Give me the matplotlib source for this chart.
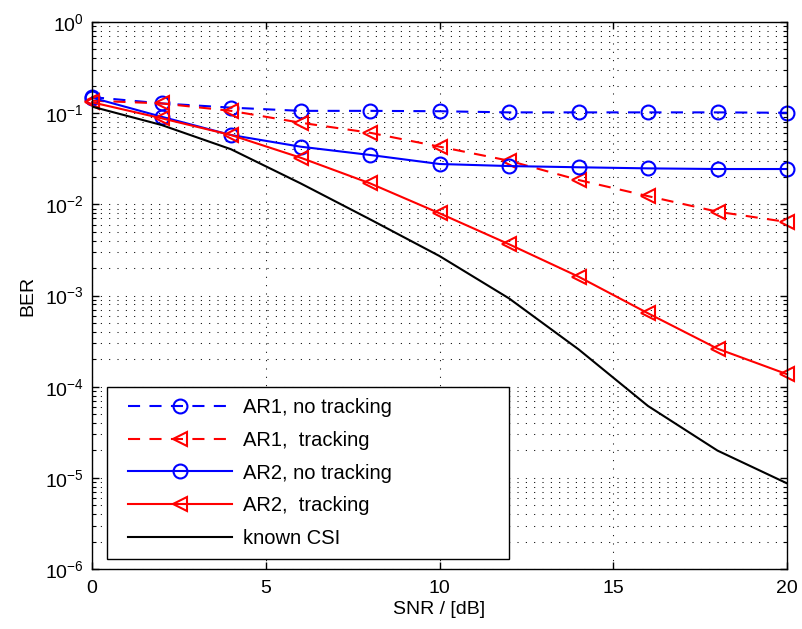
import numpy as np
import matplotlib
matplotlib.use('Agg')
import matplotlib.pyplot as plt
from matplotlib.lines import Line2D
from matplotlib.legend_handler import HandlerLine2D
from matplotlib.ticker import LogLocator, NullFormatter

plt.rcParams['font.family'] = ['Liberation Sans', 'DejaVu Sans']
plt.rcParams['mathtext.fontset'] = 'custom'
plt.rcParams['mathtext.rm'] = 'Liberation Sans'

# SNR grid and BER curves
snr = [0, 2, 4, 6, 8, 10, 12, 14, 16, 18, 20]
ar1_no_track = [0.150, 0.128, 0.115, 0.106, 0.106, 0.105, 0.102, 0.102, 0.102, 0.102, 0.101]
ar1_track = [0.137, 0.128, 0.106, 0.0786, 0.0610, 0.0429, 0.0301, 0.0185, 0.0123, 0.0083, 0.0064]
ar2_no_track = [0.148, 0.0914, 0.0576, 0.0429, 0.0348, 0.0277, 0.0263, 0.0255, 0.0248, 0.0244, 0.0244]
ar2_track = [0.1316, 0.0879, 0.0576, 0.0325, 0.0170, 0.00798, 0.00365, 0.00161, 0.000638, 0.000261, 0.000137]
known_csi = [0.118, 0.0742, 0.0402, 0.0170, 0.00685, 0.00271, 0.00093, 0.000257, 6.14e-5, 1.99e-5, 8.7e-6]

fig = plt.figure(figsize=(8.02, 6.29), dpi=100)
ax = fig.add_axes([92/802, 1 - 569/629, 695/802, 547/629])

ms = 10
lw = 1.5
dash = (5.8, 4.5)
common = dict(mfc='none', ms=ms, lw=lw, mew=1.5, clip_on=False)
ax.semilogy(snr, ar1_no_track, 'b--o', dashes=dash, label='AR1, no tracking', **common)
ax.semilogy(snr, ar1_track, 'r--<', dashes=dash, label='AR1,  tracking', **common)
ax.semilogy(snr, ar2_no_track, 'b-o', label='AR2, no tracking', **common)
ax.semilogy(snr, ar2_track, 'r-<', label='AR2,  tracking', **common)
ax.semilogy(snr, known_csi, 'k-', lw=lw, label='known CSI')

ax.set_xlim(0, 20)
ax.set_ylim(1e-6, 1)
ax.set_xticks([0, 5, 10, 15, 20])
ax.yaxis.set_major_locator(LogLocator(base=10, numticks=10))
ax.yaxis.set_minor_locator(LogLocator(base=10, subs=np.arange(2, 10), numticks=20))
ax.yaxis.set_minor_formatter(NullFormatter())

dots = (0, (1, 7))
ax.grid(True, which='major', linestyle=dots, color='k', lw=0.75)
ax.grid(True, which='minor', axis='y', linestyle=dots, color='k', lw=0.75)
ax.tick_params(which='both', direction='in', top=True, right=True, labelsize=14)
ax.tick_params(which='major', length=5, width=1)
ax.tick_params(which='minor', length=3, width=0.8)
ax.tick_params(axis='x', pad=8)
ax.tick_params(axis='y', pad=6)
for s in ax.spines.values():
    s.set_linewidth(1.0)

ax.set_xlabel('SNR / [dB]', fontsize=14, labelpad=3)
ax.set_ylabel('BER', fontsize=14, labelpad=6)

leg = ax.legend(loc='lower left', bbox_to_anchor=(15/695, 10/547, 402/695, 0.3),
                mode='expand', borderaxespad=0,
                fontsize=14.5, fancybox=False, edgecolor='k', framealpha=1,
                handlelength=5.67, handletextpad=0.55, labelspacing=0.68,
                borderpad=0.55,
                handler_map={Line2D: HandlerLine2D(xpad=0.5)})
leg.get_frame().set_linewidth(1.0)

fig.savefig('out.png', dpi=100)
